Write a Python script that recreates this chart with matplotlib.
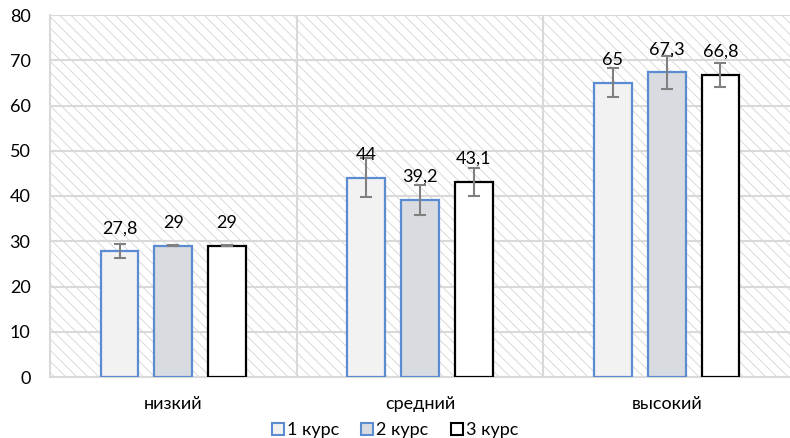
import matplotlib
matplotlib.use("Agg")
import matplotlib.pyplot as plt
from matplotlib.patches import Rectangle
from matplotlib.lines import Line2D
import numpy as np

categories = ["низкий", "средний", "высокий"]
series_names = ["1 курс", "2 курс", "3 курс"]
values_1 = [27.8, 44.0, 65.0]
values_2 = [29.0, 39.2, 67.3]
values_3 = [29.0, 43.1, 66.8]
errors_1 = [1.6, 4.3, 3.2]
errors_2 = [0.1, 3.3, 3.7]
errors_3 = [0.1, 3.0, 2.7]
labels_1 = ["27,8", "44", "65"]
labels_2 = ["29", "39,2", "67,3"]
labels_3 = ["29", "43,1", "66,8"]
yticks = [0, 10, 20, 30, 40, 50, 60, 70, 80]

plt.rcParams['font.family'] = ['Lato', 'DejaVu Sans']
plt.rcParams['hatch.linewidth'] = 0.6

fig = plt.figure(figsize=(7.9, 4.38), dpi=100)
ax = fig.add_axes([50/790, 1-377/438, 1-50/790, (377-15)/438])

grid_c = '#d9d9d9'
ax.set_facecolor('white')
bg = Rectangle((0, 0), 1, 1, transform=ax.transAxes, facecolor='white',
               edgecolor='#d4d4d4', hatch='\\\\\\', linewidth=0, zorder=0)
ax.add_patch(bg)

x = np.arange(len(categories))
w = 0.153
off = 0.218
series = [
    (values_1, errors_1, labels_1, '#f2f2f2', '#5b8bd0'),
    (values_2, errors_2, labels_2, '#d8dbe0', '#5b8bd0'),
    (values_3, errors_3, labels_3, '#ffffff', '#000000'),
]
for i, (vals, errs, labs, fc, ec) in enumerate(series):
    xs = x + (i - 1) * off
    ax.bar(xs, vals, width=w, color=fc, edgecolor=ec, linewidth=1.6, zorder=3)
    ax.errorbar(xs, vals, yerr=errs, fmt='none', ecolor='#808080',
                elinewidth=1.5, capsize=4.3, capthick=1.5, zorder=4)
    for xi, v, lab in zip(xs, vals, labs):
        ax.annotate(lab, (xi, v), xytext=(0, 16.5), textcoords='offset points',
                    ha='center', va='center', fontsize=13, zorder=5)

ax.set_xlim(-0.5, 2.5)
ax.set_ylim(0, 80)
ax.set_yticks(yticks)
ax.set_xticks(x)
ax.set_xticklabels(categories)
for y in yticks[1:]:
    ax.axhline(y, color=grid_c, linewidth=1.5, zorder=1)
for xv in [0.5, 1.5]:
    ax.axvline(xv, color=grid_c, linewidth=1.5, zorder=1)
for s in ['top', 'right']:
    ax.spines[s].set_visible(False)
ax.spines['left'].set_color(grid_c)
ax.spines['bottom'].set_color(grid_c)
ax.spines['left'].set_linewidth(1.5)
ax.spines['bottom'].set_linewidth(1.5)
ax.tick_params(axis='both', length=0, labelsize=13)
ax.tick_params(axis='y', pad=14)
ax.tick_params(axis='x', pad=14)

handles = [
    Line2D([], [], marker='s', linestyle='none', markersize=8.5,
           markerfacecolor=fc, markeredgecolor=ec, markeredgewidth=1.5)
    for (_, _, _, fc, ec) in series
]
fig.legend(handles, series_names, loc='center', bbox_to_anchor=(0.5, 1-430/438),
           ncol=3, frameon=False, fontsize=13, handlelength=0.7,
           handletextpad=0.15, columnspacing=1.2, borderaxespad=0)

fig.savefig('out.png', dpi=100)
